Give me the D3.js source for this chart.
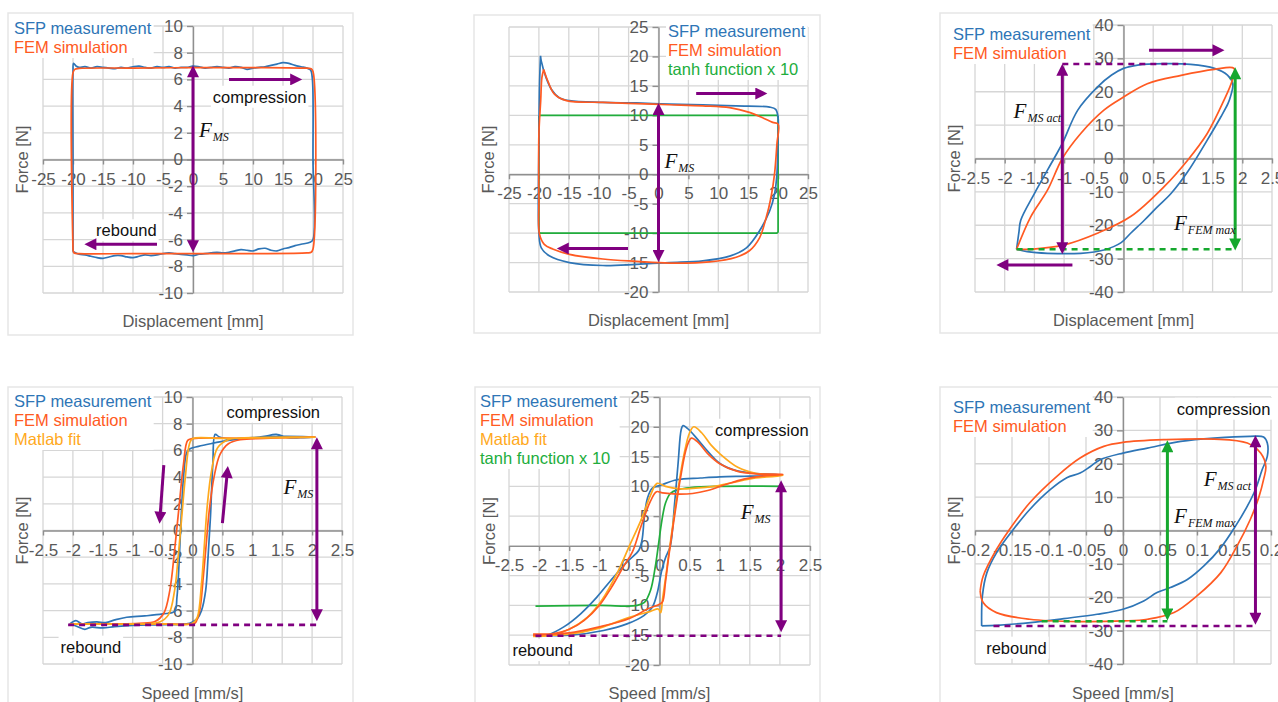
<!DOCTYPE html>
<html>
<head>
<meta charset="utf-8">
<script src="https://cdn.jsdelivr.net/npm/d3@7"></script>
<style>
  body { margin: 0; background: #fff; }
  svg { display: block; font-family: "Liberation Sans", Arial, sans-serif; }
</style>
</head>
<body>
<svg id="chart" width="1278" height="702"></svg>
<script>
// ---- tick labels ----
const dispTicks = [-25, -20, -15, -10, -5, 0, 5, 10, 15, 20, 25];
const speedTicks = [-2.5, -2, -1.5, -1, -0.5, 0, 0.5, 1, 1.5, 2, 2.5];
const ampTicks = [-2.5, -2, -1.5, -1, -0.5, 0, 0.5, 1, 1.5, 2, 2.5];
const smallSpeedTicks = [-0.2, -0.15, -0.1, -0.05, 0, 0.05, 0.1, 0.15, 0.2];
const force10Ticks = [-10, -8, -6, -4, -2, 0, 2, 4, 6, 8, 10];
const force25Ticks = [-20, -15, -10, -5, 0, 5, 10, 15, 20, 25];
const force40Ticks = [-40, -30, -20, -10, 0, 10, 20, 30, 40];

// ---- panel 1: displacement, square loop ----
const p1Sfp = [[-20,-6.9],[-20,0],[-20,6.5],[-19.9,7.2],[-19.5,7.0],[-19,6.9],[-18,6.95],[-17,6.85],[-16,6.95],[-15,6.9],[-14,6.85],[-13,6.8],[-12,6.9],[-11,6.85],[-10,6.95],[-9,7.0],[-8,6.9],[-7,6.85],[-6,6.95],[-5,6.9],[-4,6.95],[-3,6.85],[-2,6.9],[-1,6.9],[0,7.0],[1,6.95],[2,6.85],[3,6.9],[4,6.95],[5,6.9],[6,6.85],[7,6.95],[8,6.9],[9,6.75],[10,6.85],[11,6.9],[12,6.95],[13,7.05],[14,7.15],[15,7.25],[16,7.2],[17,7.05],[18,6.95],[19,6.85],[19.6,6.7],[19.9,6.0],[20,0],[20,-6],[19.5,-6.2],[18,-6.35],[17,-6.45],[16,-6.6],[15,-6.7],[14,-6.85],[13,-6.8],[12,-6.65],[11,-6.7],[10,-6.85],[9,-6.8],[8,-6.75],[7,-6.85],[6,-6.95],[5,-7.0],[4,-6.95],[3,-7.0],[2,-7.05],[1,-7.1],[0,-7.2],[-1,-7.15],[-2,-7.1],[-3,-7.05],[-4,-7.0],[-5,-7.05],[-6,-7.15],[-7,-7.2],[-8,-7.15],[-9,-7.25],[-10,-7.35],[-11,-7.3],[-12,-7.2],[-13,-7.2],[-14,-7.3],[-15,-7.4],[-16,-7.35],[-17,-7.25],[-18,-7.15],[-19,-7.1],[-20,-6.9]];
const p1Fem = [[-20,-6.8],[-20,6.5],[-19.7,6.75],[-19,6.82],[-10,6.85],[0,6.88],[10,6.88],[18,6.85],[19.7,6.8],[20,6.6],[20,-6.7],[19.7,-6.95],[19,-7.0],[10,-7.05],[0,-7.05],[-10,-7.05],[-19,-7.05],[-19.8,-7.0],[-20,-6.8]];
const p1Arrows = [[0,6.97,0,-6.85,"both","purple"],[6,6,18,6,"end","purple"],[-6,-6.35,-17.9,-6.35,"end","purple"]];
const p1Texts = [["compression",11.1,4.7],["rebound",-11.1,-5.3]];
const p1Forces = [["MS",1.0,1.7]];

// ---- panel 2: displacement, with tanh ----
const p2Sfp = [[-19.73,20.1],[-19.6,19.2],[-18.8,16.4],[-17.9,14.4],[-16.6,13],[-14.9,12.5],[-9.3,12.2],[-3.7,12.1],[1.8,11.9],[7.4,11.8],[13,11.6],[18.6,11.4],[19.6,11.0],[20,9.6],[20,6.8],[19.8,0],[19.4,-3.4],[18.6,-6.2],[16.9,-9.6],[14.7,-12.5],[11.9,-13.9],[7.4,-14.7],[1.8,-15.0],[-3.7,-15.3],[-9.3,-15.5],[-14.9,-15.0],[-18.2,-13.9],[-19.6,-12.5],[-20,-10],[-20,5],[-19.9,15],[-19.73,20.1]];
const p2Fem = [[-19.2,17.8],[-18.5,15.8],[-17.4,13.6],[-15.4,12.5],[-9.3,12.2],[-3.7,12.0],[1.8,11.8],[7.4,11.6],[11.9,11.3],[15.2,10.5],[17.4,9.6],[19.1,8.8],[20,8.5],[19.8,5.1],[19.4,0],[18.8,-4.0],[18,-7.4],[16.9,-10.8],[15.2,-13],[13,-14.1],[8.5,-14.9],[1.8,-15.1],[-3.7,-14.8],[-9.3,-14.4],[-14.9,-13.6],[-17.7,-12.7],[-19.1,-11.9],[-19.9,-10.2],[-20,-4.5],[-20,6.8],[-19.7,12.5],[-19.5,16.4],[-19.2,17.8]];
const p2Tanh = [[-20,-9.8],[-20,9.8],[-19.8,10],[19.8,10],[20,9.8],[20,-9.8],[19.8,-10],[-19.8,-10],[-20,-9.8]];
const p2Arrows = [[0,11.9,0,-14.7,"both","purple"],[6.3,13.7,18,13.7,"end","purple"],[-5.1,-12.6,-16.8,-12.6,"end","purple"]];
const p2Forces = [["MS",1.0,1.0]];

// ---- panel 3: small amplitude displacement ----
const p3Sfp = [[-1.8,-27.2],[-1.76,-22],[-1.73,-18.5],[-1.5,-10.5],[-1.17,0],[-1.03,4.5],[-0.77,14.5],[-0.44,21.4],[-0.2,25],[0,27],[0.24,28],[0.68,28.4],[1.13,28.2],[1.53,27],[1.75,25],[1.84,22.4],[1.8,18.5],[1.76,16.5],[1.64,12.5],[1.41,5.5],[1.08,-4],[0.8,-10.5],[0.57,-14.5],[0.35,-18.5],[0.12,-22.4],[-0.04,-25.2],[-0.33,-27.4],[-0.72,-28.4],[-1.28,-28.4],[-1.62,-27.9],[-1.8,-27.2]];
const p3Fem = [[-1.8,-27.2],[-1.56,-17.4],[-1.28,-9.5],[-1.03,0],[-0.72,7.5],[-0.33,14.5],[0,18.4],[0.4,22.4],[0.97,24.9],[1.53,26.7],[1.86,27],[1.83,23.4],[1.69,17.4],[1.41,7.5],[1.08,-0.5],[0.68,-8.5],[0.12,-17.4],[-0.44,-22.4],[-1.0,-25.9],[-1.56,-27.2],[-1.8,-27.2]];
const p3Dashes = [[-1.03,28.3,1.05,28.3,"purple"],[-1.8,-27.2,1.88,-27.2,"green"]];
const p3Arrows = [[-1.03,28,-1.03,-28.3,"both","purple"],[0.43,32.4,1.68,32.4,"end","purple"],[-0.86,-31.9,-2.12,-31.9,"end","purple"],[1.88,27,1.88,-27.2,"both","green"]];
const p3Forces = [["MS act",-1.85,12.2],["FEM max",0.85,-21.5]];

// ---- panel 4: speed, small force ----
const p4Sfp = [[-2.05,-7.0],[-1.95,-6.75],[-1.85,-7.0],[-1.75,-6.9],[-1.6,-6.85],[-1.45,-6.9],[-1.3,-6.7],[-1.1,-6.5],[-0.8,-6.4],[-0.5,-6.25],[-0.3,-6.05],[-0.26,-5.0],[-0.22,-2],[-0.19,1],[-0.15,4],[-0.1,5.8],[-0.05,6.1],[0.1,6.3],[0.3,6.5],[0.6,6.75],[1.0,6.95],[1.5,7.05],[2.05,7.0],[1.8,6.95],[1.6,6.95],[1.4,7.2],[1.2,7.05],[1.0,6.95],[0.8,6.9],[0.6,6.85],[0.45,7.0],[0.38,7.2],[0.34,5],[0.3,1],[0.26,-2],[0.22,-4.5],[0.15,-6.0],[0.08,-6.6],[0.0,-6.85],[-0.1,-7.0],[-0.5,-7.05],[-1.0,-7.1],[-1.3,-7.2],[-1.5,-7.3],[-1.7,-7.25],[-1.8,-7.4],[-1.95,-7.15],[-2.05,-7.0]];
const p4Fem = [[-2.05,-7.0],[-1.0,-7.0],[-0.5,-7.0],[0.0,-7.0],[0.05,-6.9],[0.12,-6.0],[0.18,-3.5],[0.23,-1],[0.28,1.5],[0.36,4],[0.46,5.7],[0.6,6.5],[0.8,6.8],[1.2,6.9],[2.05,7.0],[1.0,6.9],[0.0,6.88],[-0.08,6.75],[-0.15,5],[-0.22,2],[-0.3,-1.5],[-0.38,-4.5],[-0.48,-6.2],[-0.62,-6.8],[-0.9,-6.95],[-2.05,-7.0]];
const p4Fit = [[-2.05,-7.0],[-0.5,-7.0],[0.0,-6.95],[0.08,-6.5],[0.15,-4],[0.2,-1],[0.25,2],[0.32,4.5],[0.42,6.2],[0.6,6.8],[1.0,6.95],[2.05,7.0],[0.5,6.9],[0.0,6.88],[-0.05,6.5],[-0.12,4],[-0.18,1],[-0.24,-2],[-0.3,-4.5],[-0.4,-6.3],[-0.55,-6.85],[-1.0,-7.0],[-2.05,-7.0]];
const p4Dashes = [[-2.08,-7.07,2.08,-7.07,"purple"]];
const p4Arrows = [[2.08,6.9,2.08,-6.7,"both","purple"],[-0.48,4.9,-0.55,0.6,"end","purple"],[0.5,0.55,0.59,4.75,"end","purple"]];
const p4Texts = [["compression",1.35,8.9],["rebound",-1.7,-8.7]];
const p4Forces = [["MS",1.52,2.7]];

// ---- panel 5: speed, with tanh ----
const p5Sfp = [[-2.06,-15.0],[-1.48,-15.0],[-0.93,-14.2],[-0.54,-13.1],[-0.26,-11.7],[-0.12,-10.3],[-0.04,-8.0],[0.04,-4],[0.1,-2],[0.18,0],[0.25,7],[0.31,14],[0.36,19.5],[0.39,20.2],[0.5,19.4],[0.74,16.6],[1.01,13.8],[1.29,12.6],[1.57,12.2],[2.04,11.9],[1.5,11.7],[1.0,11.6],[0.68,11.4],[0.29,11.1],[0.02,10.2],[-0.12,9.7],[-0.2,8],[-0.25,5],[-0.29,1],[-0.34,-0.7],[-0.54,-2.7],[-0.81,-5.8],[-1.04,-8.6],[-1.31,-11.4],[-1.59,-13.6],[-1.87,-15.0],[-2.06,-15.2]];
const p5Fem = [[-2.1,-14.8],[-1.5,-14.6],[-1.0,-13.6],[-0.5,-12.2],[-0.2,-10.6],[0.0,-9.8],[0.05,-9.4],[0.1,-6],[0.15,-2],[0.25,5],[0.35,11.5],[0.45,16.5],[0.53,18.1],[0.65,17.3],[0.8,15.5],[1.0,13.8],[1.3,12.5],[1.6,12.1],[2.05,12.0],[1.7,11.7],[1.4,11.2],[1.1,10.3],[0.8,9.3],[0.55,8.8],[0.3,8.7],[0.05,8.9],[-0.05,9.1],[-0.15,7.5],[-0.3,3.5],[-0.45,-1],[-0.6,-3.5],[-0.8,-7],[-1.0,-10],[-1.25,-12.5],[-1.5,-14],[-1.8,-14.8],[-2.1,-15.0]];
const p5Fit = [[-2.1,-15.0],[-1.5,-14.8],[-1.0,-13.8],[-0.5,-12.0],[-0.15,-11.0],[-0.02,-10.6],[0.02,-11.2],[0.05,-9],[0.12,-4],[0.2,2],[0.3,9],[0.4,15],[0.5,19],[0.57,20],[0.7,19],[0.85,17],[1.0,15.5],[1.3,13.2],[1.6,12.2],[2.05,11.8],[1.6,11.4],[1.2,10.6],[0.9,10.0],[0.6,9.7],[0.3,9.6],[0.1,10.0],[-0.04,10.5],[-0.15,8.5],[-0.3,4.5],[-0.5,0],[-0.7,-4.5],[-0.95,-9],[-1.2,-12],[-1.5,-14],[-1.8,-15.0],[-2.1,-15.2]];
const p5Tanh = [[-2.06,-10.1],[-1.0,-10.0],[-0.37,-10.0],[-0.25,-9.5],[-0.15,-7.5],[-0.07,-3.5],[-0.02,0],[0.04,4.3],[0.1,7.2],[0.18,8.8],[0.29,9.4],[0.52,9.8],[1.0,10.0],[2.04,10.0]];
const p5Dashes = [[-2.06,-15.1,2.02,-15.1,"purple"]];
const p5Arrows = [[2.02,10.8,2.02,-14.3,"both","purple"]];
const p5Texts = [["compression",1.7,19.5],["rebound",-1.94,-17.5]];
const p5Forces = [["MS",1.35,4.5]];

// ---- panel 6: small speed ----
const p6Sfp = [[-0.191,-28.6],[-0.19,-19.6],[-0.184,-12.7],[-0.171,-6.7],[-0.15,-0.2],[-0.126,6.3],[-0.098,12.3],[-0.076,15.8],[-0.058,17.2],[-0.044,19.2],[-0.031,21.2],[0,23.2],[0.033,24.7],[0.078,26.7],[0.123,27.7],[0.172,28.2],[0.19,28],[0.195,26.2],[0.195,22.2],[0.188,18.2],[0.179,12.3],[0.168,7.3],[0.152,1.3],[0.132,-5.2],[0.109,-10.7],[0.087,-14.7],[0.064,-17.1],[0.046,-18.6],[0.028,-21.1],[0,-23.6],[-0.035,-25.1],[-0.08,-26.4],[-0.125,-27.6],[-0.17,-28.4],[-0.191,-28.6]];
const p6Fem = [[-0.193,-18.1],[-0.189,-13.7],[-0.171,-5.7],[-0.155,-0.2],[-0.126,8.3],[-0.089,16.3],[-0.058,21.7],[-0.026,25.2],[0,26.4],[0.055,27.2],[0.123,27.4],[0.168,26.2],[0.186,23.2],[0.193,19.2],[0.19,15.3],[0.184,10.3],[0.172,3.3],[0.154,-4.7],[0.132,-12.7],[0.1,-19.6],[0.069,-24.6],[0.033,-26.6],[0,-27.1],[-0.058,-27.3],[-0.126,-26.6],[-0.171,-24.6],[-0.189,-21.6],[-0.193,-18.1]];
const p6Dashes = [[-0.11,-27.2,0.06,-27.2,"green"],[-0.175,-28.6,0.179,-28.6,"purple"]];
const p6Arrows = [[0.06,26.7,0.06,-26.6,"both","green"],[0.179,28.2,0.179,-27.9,"both","purple"]];
const p6Texts = [["compression",0.136,36.5],["rebound",-0.144,-35.1]];
const p6Forces = [["MS act",0.109,13.3],["FEM max",0.069,2.3]];

// ---- colours ----
const BLUE = "#2e75b6", RED = "#ff5a22", GOLD = "#ffa91c", GREEN = "#21ad3c";
const arrowColors = { purple: "#800080", green: "#16a82e" };

const legendSfp = ["SFP measurement", BLUE];
const legendFem = ["FEM simulation", RED];
const legendFit = ["Matlab fit", GOLD];
const legendTanh = ["tanh function x 10", GREEN];

const panels = [
  { box: [8, 13, 353, 335], xr: [43, 343], yr: [26, 293], xd: [-25, 25], yd: [10, -10],
    xt: dispTicks, yt: force10Ticks, xTitle: "Displacement [mm]", titleY: 321,
    series: [[p1Sfp, BLUE], [p1Fem, RED]], legend: [legendSfp, legendFem], legendAt: [14, 28],
    arrows: p1Arrows, dashes: [], texts: p1Texts, forces: p1Forces },
  { box: [474, 15, 820, 333], xr: [509, 808], yr: [27, 292], xd: [-25, 25], yd: [25, -20],
    xt: dispTicks, yt: force25Ticks, xTitle: "Displacement [mm]", titleY: 320,
    series: [[p2Tanh, GREEN, true], [p2Sfp, BLUE], [p2Fem, RED]], legend: [legendSfp, legendFem, legendTanh], legendAt: [668, 31],
    arrows: p2Arrows, dashes: [], texts: [], forces: p2Forces },
  { box: [940, 13, 1290, 333], xr: [975, 1272], yr: [25, 292], xd: [-2.5, 2.5], yd: [40, -40],
    xt: ampTicks, yt: force40Ticks, xTitle: "Displacement [mm]", titleY: 320,
    series: [[p3Sfp, BLUE], [p3Fem, RED]], legend: [legendSfp, legendFem], legendAt: [953, 34],
    arrows: p3Arrows, dashes: p3Dashes, texts: [], forces: p3Forces },
  { box: [8, 387, 353, 712], xr: [43, 342], yr: [397, 664], xd: [-2.5, 2.5], yd: [10, -10],
    xt: speedTicks, yt: force10Ticks, xTitle: "Speed [mm/s]", titleY: 693,
    series: [[p4Sfp, BLUE], [p4Fem, RED], [p4Fit, GOLD]], legend: [legendSfp, legendFem, legendFit], legendAt: [14, 401],
    arrows: p4Arrows, dashes: p4Dashes, texts: p4Texts, forces: p4Forces },
  { box: [475, 387, 820, 712], xr: [509, 810], yr: [397, 665], xd: [-2.5, 2.5], yd: [25, -20],
    xt: speedTicks, yt: force25Ticks, xTitle: "Speed [mm/s]", titleY: 693,
    series: [[p5Tanh, GREEN], [p5Sfp, BLUE], [p5Fit, GOLD], [p5Fem, RED]], legend: [legendSfp, legendFem, legendFit, legendTanh], legendAt: [480, 401],
    arrows: p5Arrows, dashes: p5Dashes, texts: p5Texts, forces: p5Forces },
  { box: [940, 387, 1290, 712], xr: [975, 1271], yr: [397, 664], xd: [-0.2, 0.2], yd: [40, -40],
    xt: smallSpeedTicks, yt: force40Ticks, xTitle: "Speed [mm/s]", titleY: 693,
    series: [[p6Sfp, BLUE], [p6Fem, RED]], legend: [legendSfp, legendFem], legendAt: [953, 407],
    arrows: p6Arrows, dashes: p6Dashes, texts: p6Texts, forces: p6Forces }
];

const svg = d3.select("#chart");
svg.append("rect").attr("width", 1278).attr("height", 702).attr("fill", "#fff");

// arrow heads; the tip sits 6px past the line end so the thick stroke hides under it
const CUT = 6;
const defs = svg.append("defs");
Object.entries(arrowColors).forEach(([k, c]) => {
  defs.append("marker")
    .attr("id", "head-" + k)
    .attr("viewBox", "0 0 16 10")
    .attr("refX", 10).attr("refY", 5)
    .attr("markerWidth", 21).attr("markerHeight", 12)
    .attr("markerUnits", "userSpaceOnUse")
    .attr("orient", "auto-start-reverse")
    .append("path").attr("d", "M6,0 L16,5 L6,10 z").attr("fill", c);
});

function whiteBehind(g, pad) {
  const b = g.node().getBBox();
  g.insert("rect", ":first-child")
    .attr("x", b.x - pad).attr("y", b.y - pad)
    .attr("width", b.width + 2 * pad).attr("height", b.height + 2 * pad)
    .attr("fill", "#fff");
}

function drawPanel(p) {
  const g = svg.append("g");
  const x = d3.scaleLinear().domain(p.xd).range(p.xr);
  const y = d3.scaleLinear().domain(p.yd).range(p.yr);

  g.append("rect")
    .attr("x", p.box[0]).attr("y", p.box[1])
    .attr("width", p.box[2] - p.box[0]).attr("height", p.box[3] - p.box[1])
    .attr("fill", "#fff").attr("stroke", "#e6e6e6").attr("stroke-width", 1.5);

  // grid
  const grid = g.append("g").attr("stroke", "#d6d6d6").attr("stroke-width", 1.3);
  grid.selectAll(".gx").data(p.xt).join("line")
    .attr("x1", d => x(d)).attr("x2", d => x(d))
    .attr("y1", p.yr[0]).attr("y2", p.yr[1]);
  grid.selectAll(".gy").data(p.yt).join("line")
    .attr("y1", d => y(d)).attr("y2", d => y(d))
    .attr("x1", p.xr[0]).attr("x2", p.xr[1]);

  // legend with white box over the grid
  const leg = g.append("g").attr("font-size", 16.5);
  leg.selectAll("text").data(p.legend).join("text")
    .attr("x", p.legendAt[0])
    .attr("y", (d, i) => p.legendAt[1] + i * 19)
    .attr("dominant-baseline", "central")
    .attr("fill", d => d[1])
    .text(d => d[0]);
  whiteBehind(leg, 2);

  // compression / rebound labels
  p.texts.forEach(t => {
    const tg = g.append("g");
    tg.append("text")
      .attr("x", x(t[1])).attr("y", y(t[2]))
      .attr("text-anchor", "middle").attr("dominant-baseline", "central")
      .attr("font-size", 16.5).attr("fill", "#111")
      .text(t[0]);
    whiteBehind(tg, 2);
  });

  // axes crossing at the origin
  const xAxis = g.append("g")
    .attr("transform", `translate(0,${y(0)})`)
    .call(d3.axisBottom(x).tickValues(p.xt).tickSize(5).tickSizeOuter(0).tickPadding(8).tickFormat(d => String(d)));
  const yAxis = g.append("g")
    .attr("transform", `translate(${x(0)},0)`)
    .call(d3.axisLeft(y).tickValues(p.yt).tickSize(6).tickSizeOuter(0).tickPadding(4).tickFormat(d => String(d)));
  [xAxis, yAxis].forEach(a => {
    a.attr("font-family", null).attr("font-size", 17);
    a.select(".domain").attr("stroke", "#8f8f8f").attr("stroke-width", 1.4);
    a.selectAll(".tick line").attr("stroke", "#8f8f8f").attr("stroke-width", 1.4);
    a.selectAll(".tick text").attr("fill", "#595959");
  });

  // axis titles
  g.append("text")
    .attr("x", (p.xr[0] + p.xr[1]) / 2).attr("y", p.titleY)
    .attr("text-anchor", "middle").attr("dominant-baseline", "central")
    .attr("font-size", 16.5).attr("fill", "#595959")
    .text(p.xTitle);
  g.append("text")
    .attr("transform", `translate(${p.box[0] + 14},${(p.yr[0] + p.yr[1]) / 2}) rotate(-90)`)
    .attr("text-anchor", "middle").attr("dominant-baseline", "central")
    .attr("font-size", 16.5).attr("fill", "#595959")
    .text("Force [N]");

  // curves
  const smooth = d3.line().x(d => x(d[0])).y(d => y(d[1])).curve(d3.curveCatmullRom.alpha(0.5));
  const straight = d3.line().x(d => x(d[0])).y(d => y(d[1]));
  g.append("g").selectAll("path").data(p.series).join("path")
    .attr("d", d => (d[2] ? straight : smooth)(d[0]))
    .attr("fill", "none")
    .attr("stroke", d => d[1])
    .attr("stroke-width", 1.7)
    .attr("stroke-linejoin", "round");

  // dashed guide lines
  g.append("g").selectAll("line").data(p.dashes).join("line")
    .attr("x1", d => x(d[0])).attr("y1", d => y(d[1]))
    .attr("x2", d => x(d[2])).attr("y2", d => y(d[3]))
    .attr("stroke", d => arrowColors[d[4]])
    .attr("stroke-width", 2.6)
    .attr("stroke-dasharray", "6,5");

  // arrows
  p.arrows.forEach(a => {
    const x1 = x(a[0]), y1 = y(a[1]), x2 = x(a[2]), y2 = y(a[3]);
    const len = Math.hypot(x2 - x1, y2 - y1), ux = (x2 - x1) / len, uy = (y2 - y1) / len;
    const start = a[4] === "both" ? CUT : 0;
    const line = g.append("line")
      .attr("x1", x1 + ux * start).attr("y1", y1 + uy * start)
      .attr("x2", x2 - ux * CUT).attr("y2", y2 - uy * CUT)
      .attr("stroke", arrowColors[a[5]]).attr("stroke-width", 3)
      .attr("marker-end", `url(#head-${a[5]})`);
    if (a[4] === "both") line.attr("marker-start", `url(#head-${a[5]})`);
  });

  // F labels
  p.forces.forEach(f => {
    const t = g.append("text")
      .attr("x", x(f[1])).attr("y", y(f[2]))
      .attr("font-family", "'Liberation Serif', 'DejaVu Serif', serif")
      .attr("font-style", "italic").attr("fill", "#111");
    t.append("tspan").attr("font-size", 21).text("F");
    t.append("tspan").attr("font-size", 12).attr("dy", 4).attr("dx", 1).text(f[0]);
  });
}

panels.forEach(drawPanel);
</script>
</body>
</html>
